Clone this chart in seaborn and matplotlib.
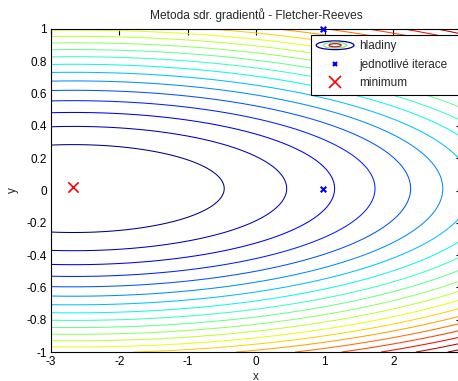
import numpy as np
import pandas as pd
import matplotlib
matplotlib.use("Agg")
import matplotlib.pyplot as plt
import seaborn as sns
from matplotlib.legend_handler import HandlerBase
from matplotlib.patches import Ellipse
from matplotlib.lines import Line2D

# ---------------- data ----------------
title = "Metoda sdr. gradientů - Fletcher-Reeves"
x_label = "x"
y_label = "y"
x_ticks = [-3, -2, -1, 0, 1, 2, 3]
x_tick_labels = ["-3", "-2", "-1", "0", "1", "2", ""]
y_ticks = [-1, -0.8, -0.6, -0.4, -0.2, 0, 0.2, 0.4, 0.6, 0.8, 1]
y_tick_labels = ["-1", "-0.8", "-0.6", "-0.4", "-0.2", "0", "0.2", "0.4", "0.6", "0.8", "1"]

# iterations and minimum (blue small crosses, red big cross)
iter_x = [0.97, 0.97]
iter_y = [1.0, 0.01]
min_x = [-2.68]
min_y = [0.02]

# quadratic objective estimated from the level curves
center_x = -2.67
center_y = 0.012
scale_x = 4.85
scale_y = 0.074
levels = list(range(1, 21))

legend_labels = ["hladiny", "jednotlivé iterace", "minimum"]

# ---------------- styling ----------------
sns.set_style("white")
plt.rcParams["font.family"] = ["Liberation Sans", "DejaVu Sans"]
plt.rcParams["axes.unicode_minus"] = False

fig = plt.figure(figsize=(4.58, 3.81), dpi=100)
ax = fig.add_axes([0.111, 0.076, 0.897, 0.848])

gx = np.linspace(-3, 3, 400)
gy = np.linspace(-1, 1, 300)
X, Y = np.meshgrid(gx, gy)
Z = (X - center_x) ** 2 / scale_x + (Y - center_y) ** 2 / scale_y
ax.contour(X, Y, Z, levels=levels, cmap="jet", vmin=min(levels), vmax=max(levels),
           linewidths=0.75)

sns.scatterplot(x=iter_x, y=iter_y, marker="x", color="blue", s=16, linewidth=1.5,
                ax=ax, legend=False, clip_on=False, zorder=5)
sns.scatterplot(x=min_x, y=min_y, marker="x", color="red", s=55, linewidth=1.2,
                ax=ax, legend=False, clip_on=False, zorder=5)

ax.set_xlim(-3, 3)
ax.set_ylim(-1, 1)
ax.set_xticks(x_ticks)
ax.set_xticklabels(x_tick_labels)
ax.set_yticks(y_ticks)
ax.set_yticklabels(y_tick_labels)
ax.tick_params(direction="in", top=True, right=True, length=4, width=0.8,
               labelsize=8.5, colors="black", pad=3)
for s in ax.spines.values():
    s.set_color("black")
    s.set_linewidth(0.8)
ax.set_title(title, fontsize=8.6, pad=7)
ax.set_xlabel(x_label, fontsize=8.5, labelpad=2)
ax.set_ylabel(y_label, fontsize=8.5, labelpad=5)


class HandlerContour(HandlerBase):
    def create_artists(self, legend, orig_handle, xdescent, ydescent, width, height,
                       fontsize, trans):
        cx = width / 2 - xdescent
        cy = height / 2 - ydescent
        arts = []
        for w, h, c in [(width, height * 1.05, (0, 0, 0.6)),
                        (width * 0.62, height * 0.7, (0.55, 0.9, 0.55)),
                        (width * 0.32, height * 0.38, (0.7, 0.1, 0.1))]:
            e = Ellipse((cx, cy), w, h, facecolor="none", edgecolor=c, lw=0.9,
                        transform=trans)
            arts.append(e)
        return arts


contour_proxy = Line2D([], [])
iter_proxy = Line2D([], [], ls="none", marker="x", color="blue", markersize=3.5, mew=1.5)
min_proxy = Line2D([], [], ls="none", marker="x", color="red", markersize=8, mew=1.2)
leg = ax.legend([contour_proxy, iter_proxy, min_proxy], legend_labels,
                handler_map={contour_proxy: HandlerContour()},
                loc="upper left", bbox_to_anchor=(0.633, 0.981, 0.362, 0.0),
                mode="expand", fontsize=8.5,
                handlelength=3.2, handletextpad=0.45, borderpad=0.45,
                labelspacing=0.55, fancybox=False, framealpha=1, edgecolor="black",
                borderaxespad=0)
leg.get_frame().set_linewidth(0.8)

fig.savefig("out.png", dpi=100)
